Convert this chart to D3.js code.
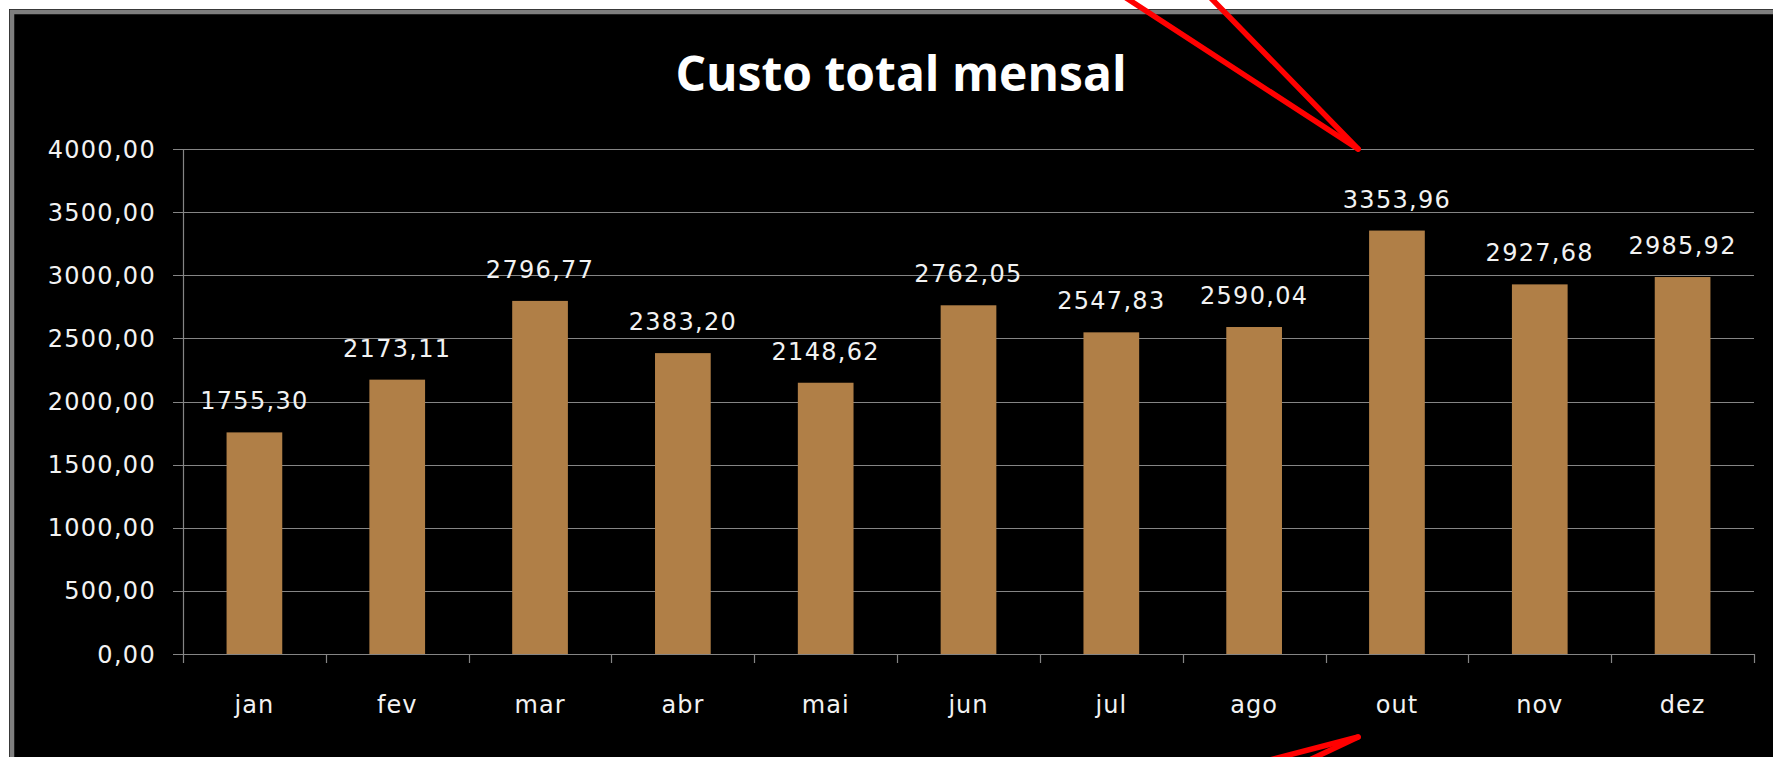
<!DOCTYPE html>
<html>
<head>
<meta charset="utf-8">
<script src="https://cdn.jsdelivr.net/npm/d3@7"></script>
<style>
  body { margin: 0; background: #fff; }
</style>
</head>
<body>
<svg id="chart" width="1773" height="757"></svg>
<script>
// Data
const months = ['jan', 'fev', 'mar', 'abr', 'mai', 'jun', 'jul', 'ago', 'out', 'nov', 'dez'];
const custos = [1755.30, 2173.11, 2796.77, 2383.20, 2148.62, 2762.05, 2547.83, 2590.04, 3353.96, 2927.68, 2985.92];
const yTicks = [0, 500, 1000, 1500, 2000, 2500, 3000, 3500, 4000];
const titulo = 'Custo total mensal';

// layout
const plotLeft = 183, plotRight = 1754, plotTop = 149, plotBottom = 654;
const barColor = '#b07f47';
const gridColor = '#858585';
const textColor = '#f2f2f2';
const smallFont = '"DejaVu Sans", sans-serif';

// numbers like 4000,00
const br = d3.formatLocale({decimal: ',', thousands: '.', grouping: [3], currency: ['R$', '']});
const fmt = br.format('.2f');

const svg = d3.select('#chart');

// frame (the picture is cropped on the right and bottom)
svg.append('rect')
    .attr('x', 9.5).attr('y', 9.5)
    .attr('width', 1900).attr('height', 900)
    .attr('fill', 'none')
    .attr('stroke', '#222')
    .attr('stroke-width', 1);
svg.append('rect')
    .attr('x', 12).attr('y', 12)
    .attr('width', 1900).attr('height', 900)
    .attr('fill', '#000')
    .attr('stroke', '#7f7f7f')
    .attr('stroke-width', 4.5);

// scales
const x = d3.scaleBand()
    .domain(months)
    .range([plotLeft, plotRight])
    .paddingInner(0.61)
    .paddingOuter(0.305);

const y = d3.scaleLinear()
    .domain([0, 4000])
    .range([plotBottom, plotTop]);

// gridlines + y tick marks
svg.append('g')
    .selectAll('line')
    .data(yTicks)
    .enter()
    .append('line')
    .attr('x1', plotLeft - 10)
    .attr('x2', plotRight)
    .attr('y1', d => Math.round(y(d)) + 0.5)
    .attr('y2', d => Math.round(y(d)) + 0.5)
    .attr('stroke', gridColor)
    .attr('stroke-width', 1.2);

// y axis line
svg.append('line')
    .attr('x1', plotLeft + 0.5).attr('x2', plotLeft + 0.5)
    .attr('y1', y(4000)).attr('y2', y(0))
    .attr('stroke', gridColor)
    .attr('stroke-width', 1.2);

// category separators on the x axis
const step = x.step();
const bounds = months.map(m => x(m) - step * x.paddingOuter()).concat([plotRight]);
svg.append('g')
    .selectAll('line')
    .data(bounds)
    .enter()
    .append('line')
    .attr('x1', d => Math.round(d) + 0.5)
    .attr('x2', d => Math.round(d) + 0.5)
    .attr('y1', y(0))
    .attr('y2', y(0) + 9)
    .attr('stroke', gridColor)
    .attr('stroke-width', 1.2);

// y tick labels
svg.append('g')
    .selectAll('text')
    .data(yTicks)
    .enter()
    .append('text')
    .attr('x', plotLeft - 27)
    .attr('y', d => y(d) + 8.5)
    .attr('text-anchor', 'end')
    .attr('fill', textColor)
    .style('font-family', smallFont)
    .style('font-size', '24px')
    .style('letter-spacing', '1.3px')
    .text(d => fmt(d));

// bars
svg.append('g')
    .selectAll('rect')
    .data(custos)
    .enter()
    .append('rect')
    .attr('x', (d, i) => x(months[i]))
    .attr('width', x.bandwidth())
    .attr('y', d => y(d))
    .attr('height', d => y(0) - y(d))
    .attr('fill', barColor);

// value labels above the bars
svg.append('g')
    .selectAll('text')
    .data(custos)
    .enter()
    .append('text')
    .attr('x', (d, i) => x(months[i]) + x.bandwidth() / 2)
    .attr('y', d => y(d) - 23)
    .attr('text-anchor', 'middle')
    .attr('fill', textColor)
    .style('font-family', smallFont)
    .style('font-size', '24px')
    .style('letter-spacing', '1.3px')
    .text(d => fmt(d));

// month labels
svg.append('g')
    .selectAll('text')
    .data(months)
    .enter()
    .append('text')
    .attr('x', d => x(d) + x.bandwidth() / 2)
    .attr('y', 713)
    .attr('text-anchor', 'middle')
    .attr('fill', textColor)
    .style('font-family', smallFont)
    .style('font-size', '24px')
    .style('letter-spacing', '1px')
    .text(d => d);

// title
svg.append('text')
    .attr('x', 901)
    .attr('y', 91)
    .attr('text-anchor', 'middle')
    .attr('fill', '#fff')
    .style('font-family', '"Open Sans", sans-serif')
    .style('font-weight', 'bold')
    .style('font-size', '48px')
    .text(titulo);

// red marker strokes drawn over the picture, pointing at "out"
const outX = x('out') - 11;
const redLines = [
    [[outX, y(4000)], [outX - 238, y(4000) - 155]],
    [[outX, y(4000)], [outX - 156, y(4000) - 160]],
    [[outX, 737], [outX - 100, 763]],
    [[outX, 737], [outX - 55, 763]]
];
svg.append('g')
    .selectAll('path')
    .data(redLines)
    .enter()
    .append('path')
    .attr('d', d => d3.line()(d))
    .attr('stroke', '#ff0000')
    .attr('stroke-width', 5.5)
    .attr('stroke-linecap', 'round')
    .attr('fill', 'none');
</script>
</body>
</html>
